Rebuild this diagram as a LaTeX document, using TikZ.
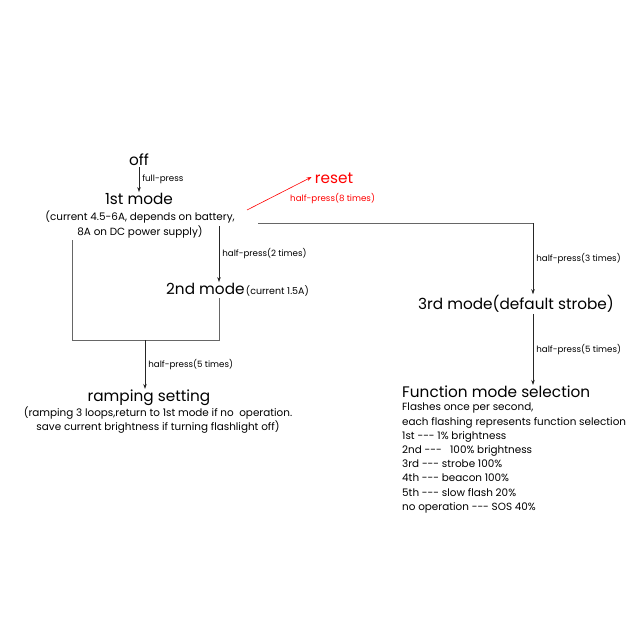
\documentclass[tikz,border=0pt]{standalone}
\usepackage{fontspec}
\setmainfont{Poppins}
\usetikzlibrary{arrows.meta}
\newcommand{\dashes}{{-}{-}{-}}
\tikzset{
  big/.style={font=\fontsize{15.3}{17}\selectfont, inner sep=1pt},
  sub/.style={font=\fontsize{10.4}{14.5}\selectfont, align=center, inner sep=0pt},
  lbl/.style={font=\fontsize{8.7}{10}\selectfont, anchor=west, inner sep=0pt},
  wire/.style={draw=black!60, line width=0.6pt},
  flow/.style={wire, -{Stealth[length=5pt,width=3.5pt]}, draw=black!85},
}
\begin{document}
\begin{tikzpicture}[x=1pt, y=-1pt]
    \useasboundingbox[fill=white] (0,0) rectangle (640,640);
    % modes
    \node[big] (off) at (139,160) {off};
    \node[big] (first) at (139,199) {1st mode};
    \node[sub] (firstnote) at (140,224.5) {(current 4.5-6A, depends on battery,\\8A on DC power supply)};
    \node[big, text=red] (reset) at (334,178) {reset};
    \node[big, anchor=west] (second) at (165,289) {2nd mode};
    \node[lbl, anchor=base west, font=\fontsize{9.5}{10}\selectfont] (secondnote) at (second.base east) {(current 1.5A)};
    \node[big] (third) at (516,304) {3rd mode(default strobe)};
    \node[big] (ramp) at (149,398) {ramping setting};
    \node[sub, font=\fontsize{10.4}{14}\selectfont] (rampnote) at (158,420.5) {(ramping 3 loops,return to 1st mode if no\ \ operation.\\save current brightness if turning flashlight off)};
    \node[big, anchor=west] (func) at (401,392) {Function mode selection};
    \node[sub, align=left, anchor=north west, font=\fontsize{10.4}{14.2}\selectfont] (funcnote) at (402,403) {Flashes once per second,\\
      each flashing represents function selection\\
      1st \dashes{} 1\% brightness\\
      2nd \dashes\ \ \ 100\% brightness\\
      3rd \dashes{} strobe 100\%\\
      4th \dashes{} beacon 100\%\\
      5th \dashes{} slow flash 20\%\\
      no operation \dashes{} SOS 40\%};
    % corners
    \coordinate (redfoot) at (247,210);
    \coordinate (tee) at (258,223);
    \coordinate (split) at (533,223);
    \coordinate (down2) at (219,226);
    \coordinate (boxtl) at (72,240);
    \coordinate (boxbl) at (72,340);
    \coordinate (boxtr) at (219,298);
    \coordinate (boxbr) at (219,340);
    \coordinate (down5) at (145,340);
    % connectors
    \draw[flow] (off.south) -- (first.north)
      node[lbl, midway, xshift=3pt] {full-press};
    \draw[flow, draw=red] (redfoot) -- ([xshift=-2pt,yshift=1pt]reset.west);
    \node[lbl, text=red] at (290,199) {half-press(8 times)};
    \draw[wire] (tee) -- (split);
    \draw[flow] (split) -- (third.north -| split)
      node[lbl, midway, xshift=3pt] {half-press(3 times)};
    \draw[flow] (down2) -- (second.north -| down2)
      node[lbl, midway, xshift=3pt] {half-press(2 times)};
    \draw[wire] (boxtl) -- (boxbl) -- (boxbr) -- (boxtr);
    \draw[flow] (down5) -- (ramp.north -| down5)
      node[lbl, midway, xshift=3pt] {half-press(5 times)};
    \draw[flow] (third.south -| split) -- (func.north -| split)
      node[lbl, midway, xshift=3pt] {half-press(5 times)};
\end{tikzpicture}
\end{document}
